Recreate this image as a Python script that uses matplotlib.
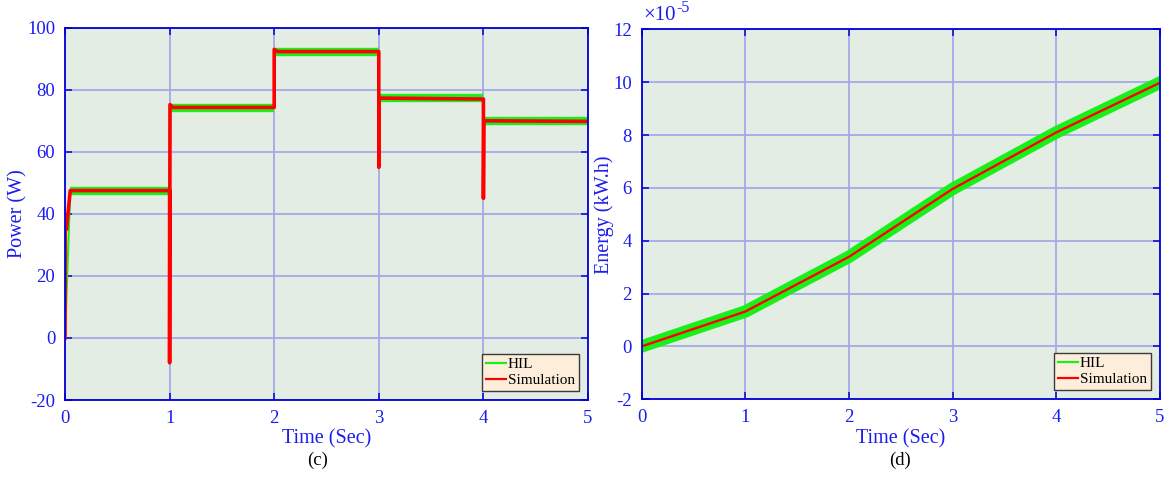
import matplotlib
matplotlib.use("Agg")
import matplotlib.pyplot as plt
from matplotlib.lines import Line2D
from matplotlib.ticker import FuncFormatter

plt.rcParams["font.family"] = ["Liberation Serif", "DejaVu Serif"]
plt.rcParams["axes.unicode_minus"] = False

# ---- (c) Power ----
power_sim_t = [0, 0.002, 0.014, 0.05, 1.0, 1.0, 1.004, 1.03, 2.0, 2.0, 2.03,
               3.0, 3.0, 3.004, 4.0, 4.0, 4.004, 5.0]
power_sim_w = [0, 38, 35, 47.5, 47.5, -8, 75.2, 74.3, 74.3, 93.0, 92.3,
               92.3, 55, 77.3, 77.0, 45, 70.0, 69.8]
power_hil_t = [0, 0.05, 1.0, 1.0, 2.0, 2.0, 3.0, 3.0, 4.0, 4.0, 5.0]
power_hil_w = [0, 47.4, 47.4, 74.2, 74.2, 92.2, 92.2, 77.2, 77.2, 69.8, 69.8]

# ---- (d) Energy ----
energy_t = [0, 1, 2, 3, 4, 5]
energy_sim_kwh = [0.0, 1.32e-5, 3.39e-5, 5.96e-5, 8.10e-5, 9.98e-5]
energy_hil_kwh = [0.0, 1.32e-5, 3.39e-5, 5.96e-5, 8.10e-5, 9.98e-5]

x_ticks = [0, 1, 2, 3, 4, 5]
power_ticks = [-20, 0, 20, 40, 60, 80, 100]
energy_ticks = [-2e-5, 0, 2e-5, 4e-5, 6e-5, 8e-5, 10e-5, 12e-5]
energy_exp = -5

BLUE_TXT = "#1c1cf0"
SPINE = "#0000d8"
GRID = "#a3aae6"
FACE = "#e3ede3"
GREEN = "#19f019"
RED = "#ff0000"

fig = plt.figure(figsize=(11.69, 4.79), dpi=100)
ax1 = fig.add_axes([0.0556, 0.1649, 0.4474, 0.7773])
ax2 = fig.add_axes([0.5488, 0.1664, 0.4435, 0.7724])


def style(ax):
    ax.set_facecolor(FACE)
    for s in ax.spines.values():
        s.set_color(SPINE)
        s.set_linewidth(1.3)
    ax.grid(True, color=GRID, linewidth=1.3)
    ax.set_axisbelow(True)
    ax.tick_params(direction="in", length=5, width=1.1, colors=SPINE,
                   labelcolor=BLUE_TXT, labelsize=13.5, top=True, right=True,
                   pad=7)
    ax.set_xlim(0, 5)
    ax.set_xticks(x_ticks)
    ax.set_xlabel("Time (Sec)", color=BLUE_TXT, fontsize=14.5, labelpad=2)


def add_legend(ax):
    handles = [Line2D([], [], color=GREEN, lw=1.6),
               Line2D([], [], color=RED, lw=1.6)]
    leg = ax.legend(handles, ["HIL", "Simulation"], loc="lower right",
                    fontsize=11, handlelength=1.3, handletextpad=0.15,
                    borderpad=0.25, labelspacing=0.15, fancybox=False,
                    framealpha=1, borderaxespad=0.6)
    leg.get_frame().set_facecolor("#fdeedc")
    leg.get_frame().set_edgecolor("#3a3a3a")
    leg.get_frame().set_linewidth(1.0)


def plateaus(t, v):
    # keep only the flat stretches of a step trace, broken apart at the jumps
    xs, ys = [], []
    for i in range(len(t) - 1):
        if t[i + 1] > t[i] and abs(v[i + 1] - v[i]) < 1:
            xs += [t[i], t[i + 1], float("nan")]
            ys += [v[i], v[i + 1], float("nan")]
    return xs, ys


style(ax1)
ax1.plot(power_hil_t, power_hil_w, color=GREEN, lw=1.5)
px, py = plateaus(power_hil_t, power_hil_w)
ax1.plot(px, py, color=GREEN, lw=6, solid_capstyle="butt")
ax1.plot(power_sim_t, power_sim_w, color=RED, lw=2.6)
ax1.set_ylim(-20, 100)
ax1.set_yticks(power_ticks)
ax1.set_ylabel("Power (W)", color=BLUE_TXT, fontsize=14.5, va="center")
ax1.yaxis.set_label_coords(-0.09, 0.5)
add_legend(ax1)

style(ax2)
ax2.plot(energy_t, energy_hil_kwh, color=GREEN, lw=9)
ax2.plot(energy_t, energy_sim_kwh, color=RED, lw=1.7)
ax2.set_ylim(-2e-5, 12e-5)
ax2.set_yticks(energy_ticks)
scale = 10.0 ** energy_exp
ax2.yaxis.set_major_formatter(FuncFormatter(lambda v, _: f"{round(v / scale):d}"))
ax2.set_ylabel("Energy (kW.h)", color=BLUE_TXT, fontsize=14.5, va="center")
ax2.yaxis.set_label_coords(-0.072, 0.5)
# exponent marker above the y axis
base = ax2.text(0.003, 1.012, "\u00d710", transform=ax2.transAxes, ha="left",
                va="bottom", fontsize=15, color=BLUE_TXT)
ax2.annotate(f"{energy_exp}", xy=(1, 1), xycoords=base, xytext=(0.5, -1.5),
             textcoords="offset points", ha="left", va="center",
             fontsize=11.5, color=BLUE_TXT)
add_legend(ax2)

fig.text(0.272, 0.03, "(c)", ha="center", fontsize=13.5, color="black")
fig.text(0.770, 0.03, "(d)", ha="center", fontsize=13.5, color="black")

fig.savefig("out.png", dpi=100)
